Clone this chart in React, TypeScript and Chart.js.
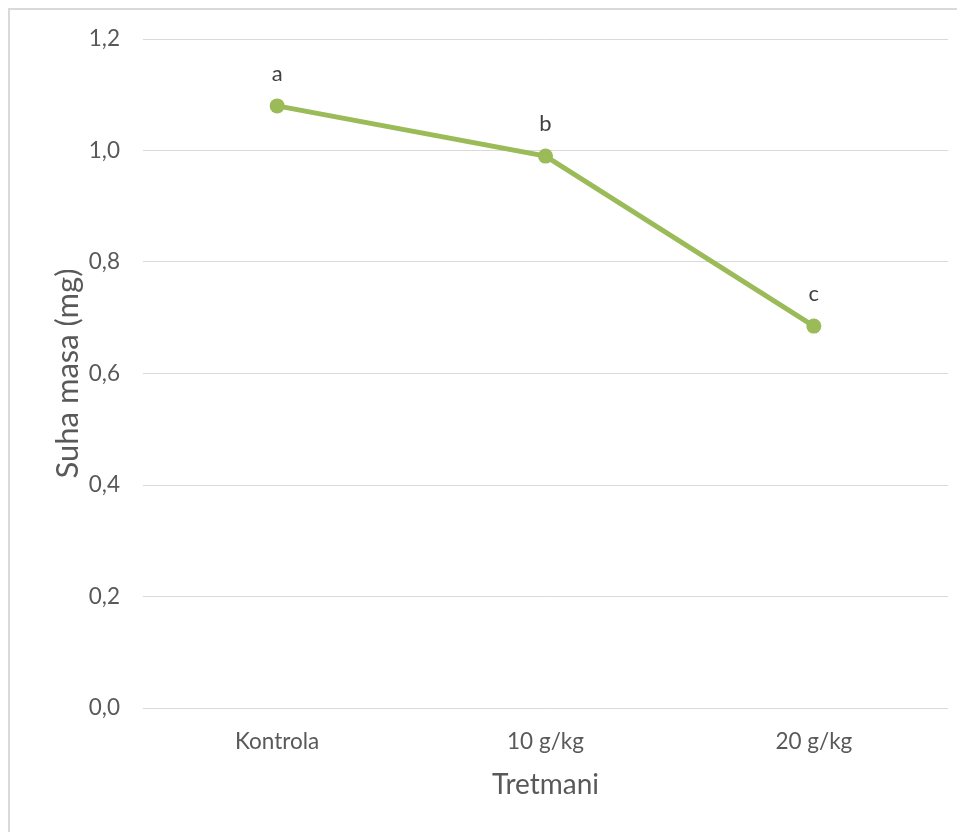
import React, { useEffect, useRef } from "react";
import { Chart, registerables } from "chart.js";

Chart.register(...registerables);

const categories = ["Kontrola", "10 g/kg", "20 g/kg"];
const values = [1.08, 0.99, 0.685];
const letters = ["a", "b", "c"];
const yTicks = [0, 0.2, 0.4, 0.6, 0.8, 1.0, 1.2];

const FONT = "Lato, 'Open Sans', sans-serif";

const letterPlugin = {
  id: "letters",
  afterDatasetsDraw(chart: any) {
    const meta = chart.getDatasetMeta(0);
    const ctx = chart.ctx;
    ctx.save();
    ctx.fillStyle = "#404040";
    ctx.font = `22px ${FONT}`;
    ctx.textAlign = "center";
    ctx.textBaseline = "middle";
    meta.data.forEach((pt: any, i: number) => {
      ctx.fillText(letters[i], pt.x, pt.y - 32);
    });
    ctx.restore();
  },
};

const borderPlugin = {
  id: "frameBorder",
  beforeDraw(chart: any) {
    const ctx = chart.ctx;
    ctx.save();
    ctx.fillStyle = "#d9d9d9";
    ctx.fillRect(0, 0, chart.width, 2);
    ctx.fillRect(0, 0, 2, chart.height);
    ctx.restore();
  },
};

export default function App() {
  const ref = useRef<HTMLCanvasElement>(null);
  useEffect(() => {
    if (!ref.current) return;
    const chart = new Chart(ref.current, {
      type: "line",
      data: {
        labels: categories,
        datasets: [
          {
            data: values,
            borderColor: "#9BBB59",
            backgroundColor: "#9BBB59",
            borderWidth: 5,
            pointRadius: 7.5,
            pointHoverRadius: 7.5,
            pointBorderWidth: 0,
            tension: 0,
          },
        ],
      },
      options: {
        animation: false,
        responsive: false,
        maintainAspectRatio: false,
        layout: { padding: { top: 31, right: 9, left: 0, bottom: 0 } },
        plugins: { legend: { display: false }, tooltip: { enabled: false } },
        scales: {
          x: {
            offset: true,
            grid: { display: false },
            border: { display: false },
            ticks: {
              color: "#595959",
              font: { family: FONT, size: 22.5 },
              padding: 12,
            },
            title: {
              display: true,
              text: "Tretmani",
              color: "#595959",
              font: { family: FONT, size: 28 },
              padding: { top: 0, bottom: 30 },
            },
            afterFit(scale: any) {
              scale.height = 124;
              scale.paddingLeft = 0;
              scale.paddingRight = 0;
            },
          },
          y: {
            min: 0,
            max: 1.2,
            afterBuildTicks(scale: any) {
              scale.ticks = yTicks.map((v) => ({ value: v }));
            },
            grid: { color: "#d9d9d9", lineWidth: 1, drawTicks: false },
            border: { display: false },
            ticks: {
              color: "#595959",
              font: { family: FONT, size: 22.5 },
              padding: 23,
              callback: (v: any) => Number(v).toFixed(1).replace(".", ","),
            },
            title: {
              display: true,
              text: "Suha masa (mg)",
              color: "#595959",
              font: { family: FONT, size: 31 },
              padding: { top: 41, bottom: 0 },
            },
            afterFit(scale: any) {
              scale.width = 135;
              scale.paddingTop = 0;
              scale.paddingBottom = 0;
            },
          },
        },
      },
      plugins: [borderPlugin, letterPlugin],
    });
    return () => chart.destroy();
  }, []);
  return (
    <div style={{ width: 949, height: 824 }}>
      <canvas ref={ref} width={949} height={824} style={{ display: "block" }} />
    </div>
  );
}
